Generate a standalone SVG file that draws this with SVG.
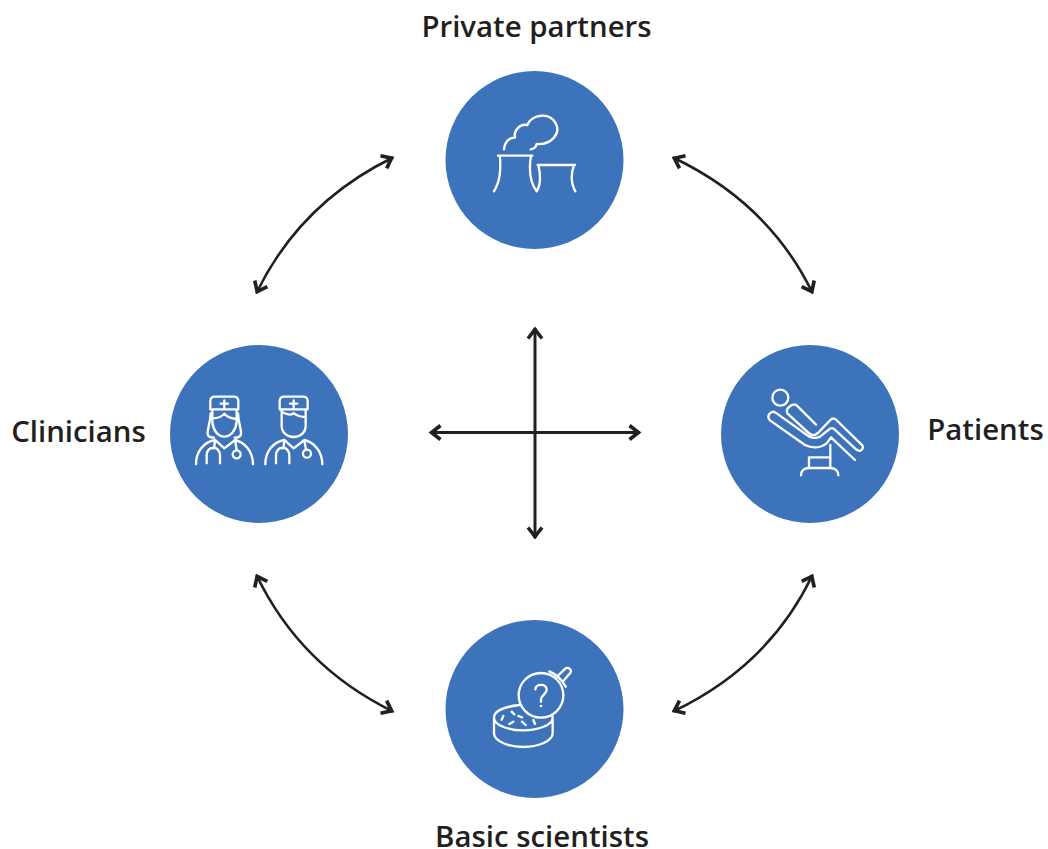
<svg xmlns="http://www.w3.org/2000/svg" width="1048" height="849" viewBox="0 0 1048 849">
<style>
.c{fill:#3d73ba}
.l{font-family:"Open Sans","Noto Sans",sans-serif;font-weight:600;font-size:29.400px;fill:#231f20}
.i{fill:none;stroke:#fff;stroke-width:7;stroke-linecap:round;stroke-linejoin:round}
.a{fill:none;stroke:#231f20;marker-start:url(#h);marker-end:url(#h)}
</style>
<defs>
<marker id="h" markerUnits="userSpaceOnUse" markerWidth="18" markerHeight="20" refX="14.500" refY="10" orient="auto-start-reverse" viewBox="0 0 18 20">
<path d="M4 3L13 10L4 17" fill="none" stroke="#231f20" stroke-width="3.600"/>
</marker>
</defs>
<rect width="1048" height="849" fill="#fff"/>
<g id="connectors">
<path class="a" stroke-width="2.600" d="M393 157.500Q300 203 256.500 293"/>
<path class="a" stroke-width="2.600" d="M673 157.500Q769 203 812.500 293"/>
<path class="a" stroke-width="2.600" d="M256.500 575Q300 666 393 711.500"/>
<path class="a" stroke-width="2.600" d="M812.500 575Q769 666 673 711.500"/>
<path class="a" stroke-width="3" d="M535 328V538"/>
<path class="a" stroke-width="3" d="M430 432.500H640"/>
</g>
<g id="private-partners">
<circle class="c" cx="534.500" cy="160" r="89"/>
<g transform="translate(470 90) scale(.3333)"><path class="i" d="M102 178C104 155 118 142 135 143C130 122 150 100 172 105C185 72 240 65 258 102C272 130 245 165 200 162C198 172 190 177 182 178"/><path class="i" d="M84 197H187M90 197C92 240 92 270 72 304M183 197C176 240 182 280 200 304C212 285 212 255 205 225M203 225H315M312 225C303 250 303 280 316 304"/></g>
<text class="l" x="536.500" y="37" text-anchor="middle">Private partners</text>
</g>
<g id="clinicians">
<circle class="c" cx="259" cy="434" r="89"/>
<g transform="translate(185 385) scale(.3333)"><path class="i" d="M90 35H146Q160 35 160 49V73H76V49Q76 35 90 35ZM118 46V67M107 56H129M82 75V110C84 135 98 155 118 155C138 155 153 135 155 110V75M82 100C100 100 112 94 118 86C125 94 140 100 155 102M77 85C76 115 66 135 68 148C70 155 78 158 87 158M159 85C160 115 170 135 168 148C166 155 158 158 149 158M33 238C33 200 55 172 90 165L118 190L150 165C180 172 204 200 204 238M90 165L88 185C88 188 85 190 82 190M65 235V212C65 180 105 180 105 212V235M150 165L155 195"/><circle class="i" cx="155" cy="208" r="12"/><path class="i" d="M298 35H354Q368 35 368 49V73H284V49Q284 35 298 35ZM326 46V67M315 56H337M290 75V122C290 142 306 156 326 156C346 156 362 142 362 122V75M290 80C305 88 320 92 326 84C335 92 350 96 362 96M241 238C241 200 263 172 298 165L326 190L358 165C388 172 412 200 412 238M298 165L296 185C296 188 293 190 290 190M273 235V212C273 180 313 180 313 212V235M358 165L363 195"/><circle class="i" cx="366" cy="206" r="12"/></g>
<text class="l" x="78.500" y="441.500" text-anchor="middle">Clinicians</text>
</g>
<g id="patients">
<circle class="c" cx="810" cy="434" r="89"/>
<g transform="translate(755 380) scale(.3333)"><circle class="i" cx="76" cy="53" r="24"/><path class="i" d="M97 100C93 92 97 84 106 78C114 72 122 72 128 79L183 134M160 158L97 100M160 158C168 166 178 170 190 158L226 120C232 114 238 114 244 120L322 196C326 202 322 210 316 212C310 214 305 210 300 205L236 146C230 142 226 144 220 150L195 170C185 175 170 175 160 168L65 100C55 92 48 95 42 103C38 110 40 116 46 122L150 195C170 205 195 205 215 190L228 172L300 240M226 195V262M162 232V262M162 232H226M138 286C138 272 148 264 162 264H226C240 264 250 272 250 286"/></g>
<text class="l" x="985.500" y="440" text-anchor="middle">Patients</text>
</g>
<g id="basic-scientists">
<circle class="c" cx="534.500" cy="709" r="89"/>
<g transform="translate(480 655) scale(.3333)"><circle class="i" cx="183" cy="121" r="67"/><path class="i" d="M118 150C75 155 42 168 42 188V235C42 258 85 276 130 276C175 276 218 258 218 235V188M42 188C42 210 85 226 130 226C175 226 218 210 218 188C218 186 218 184 216 182M208 49C225 56 245 72 257 95M231 65L256 41C262 36 270 40 272 45C274 50 272 54 268 57L248 80M166 103C168 85 198 85 200 103C202 118 183 118 183 135V140"/><circle cx="183" cy="153" r="4" fill="#fff"/><path class="i" d="M65 194L70 183M95 170L103 178M115 183L126 187M88 207L100 200M126 200L137 210M160 195L165 207"/></g>
<text class="l" x="542" y="847" text-anchor="middle">Basic scientists</text>
</g>
</svg>
